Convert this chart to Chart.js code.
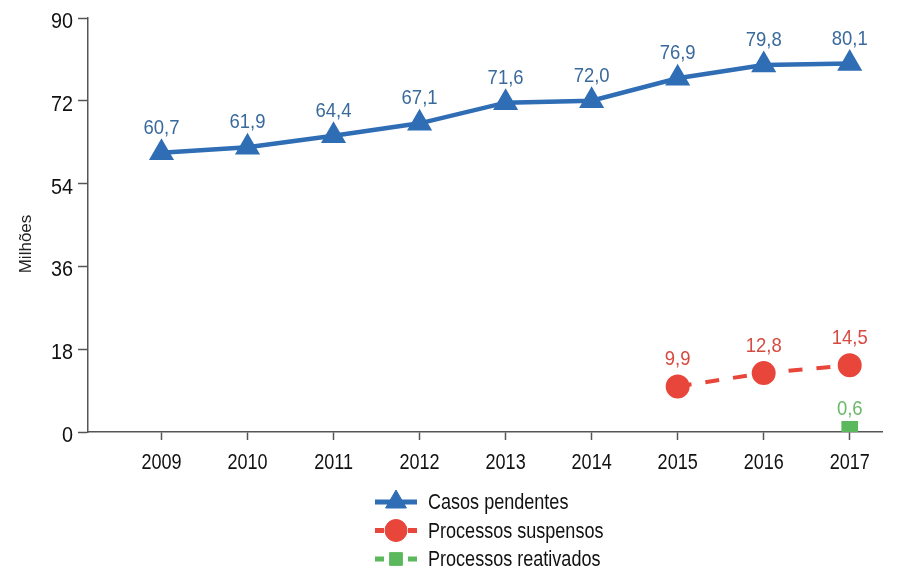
<!DOCTYPE html>
<html>
<head>
<meta charset="utf-8">
<script src="https://cdn.jsdelivr.net/npm/chart.js@4/dist/chart.umd.min.js"></script>
<style>
  html, body { margin: 0; padding: 0; background: #fff; }
  #wrap { width: 897px; height: 572px; position: relative; }
</style>
</head>
<body>
<div id="wrap"><canvas id="c"></canvas></div>
<script>
// Acervo processual (milhões de processos)
const years = [2009, 2010, 2011, 2012, 2013, 2014, 2015, 2016, 2017];
const pendentes = [60.7, 61.9, 64.4, 67.1, 71.6, 72.0, 76.9, 79.8, 80.1];
const suspensos = [null, null, null, null, null, null, 9.9, 12.8, 14.5];
const reativados = [null, null, null, null, null, null, null, null, 0.6];
const seriesNames = ['Casos pendentes', 'Processos suspensos', 'Processos reativados'];
const yTicks = [0, 18, 36, 54, 72, 90];
const yTitle = 'Milhões';

const FAMILY = "'Liberation Sans', Arial, sans-serif";
const AXIS = '#555555';
const CLEAR = 'rgba(0,0,0,0)';

function toPoints(vals) {
  return years.map((y, i) => ({ x: y, y: vals[i] }));
}
function fmt(v) {
  return v.toFixed(1).replace('.', ',');
}

// Text drawn with a horizontal squeeze to get a narrow face
function narrowText(ctx, text, x, y, opts) {
  const size = opts.size, squeeze = opts.squeeze || 0.82;
  ctx.save();
  ctx.font = size + 'px ' + FAMILY;
  ctx.fillStyle = opts.color;
  ctx.textBaseline = 'alphabetic';
  ctx.textAlign = 'left';
  const w = ctx.measureText(text).width * squeeze;
  let left = x;
  if (opts.align === 'center') left = x - w / 2;
  else if (opts.align === 'right') left = x - w;
  ctx.translate(left, y);
  ctx.scale(squeeze, 1);
  ctx.fillText(text, 0, 0);
  ctx.restore();
}

// Axis labels and y title, placed from the scales' own tick positions
const axisText = {
  id: 'axisText',
  afterDraw(chart) {
    const ctx = chart.ctx;
    const xs = chart.scales.x, ys = chart.scales.y;
    xs.ticks.forEach(t => {
      narrowText(ctx, String(t.value), xs.getPixelForValue(t.value), xs.top + 37,
        { size: 22, squeeze: 0.82, color: '#111111', align: 'center' });
    });
    ys.ticks.forEach(t => {
      narrowText(ctx, String(t.value), ys.right - 15, ys.getPixelForValue(t.value) + 10,
        { size: 22, squeeze: 0.9, color: '#111111', align: 'right' });
    });
    ctx.save();
    ctx.font = '17px ' + FAMILY;
    ctx.fillStyle = '#222222';
    ctx.textAlign = 'center';
    ctx.textBaseline = 'middle';
    ctx.translate(26, (ys.top + ys.bottom) / 2 + 19);
    ctx.rotate(-Math.PI / 2);
    ctx.fillText(yTitle, 0, 0);
    ctx.restore();
  }
};

// Value labels above each marker
const valueLabels = {
  id: 'valueLabels',
  afterDatasetsDraw(chart) {
    const ctx = chart.ctx;
    chart.data.datasets.forEach((ds, i) => {
      const meta = chart.getDatasetMeta(i);
      meta.data.forEach((pt, j) => {
        const v = ds.data[j].y;
        if (v === null || v === undefined) return;
        narrowText(ctx, fmt(v), pt.x, pt.y - ds.labelOffset,
          { size: 21, squeeze: 0.88, color: ds.labelColor, align: 'center' });
      });
    });
  }
};

// Stacked legend below the plot
const stackedLegend = {
  id: 'stackedLegend',
  afterDraw(chart) {
    const ctx = chart.ctx;
    const x0 = 375, x1 = 417, tx = 428, top = 502, gap = 28.5;
    chart.data.datasets.forEach((ds, i) => {
      const y = top + i * gap;
      ctx.save();
      ctx.strokeStyle = ds.borderColor;
      ctx.lineWidth = 5;
      ctx.setLineDash(ds.legendDash || []);
      ctx.beginPath();
      ctx.moveTo(x0, y);
      ctx.lineTo(x1, y);
      ctx.stroke();
      ctx.setLineDash([]);
      ctx.fillStyle = ds.pointBackgroundColor;
      ctx.strokeStyle = ds.pointBackgroundColor;
      ctx.lineWidth = 1;
      Chart.helpers.drawPoint(ctx, {
        pointStyle: ds.pointStyle, radius: ds.legendRadius, rotation: 0, borderWidth: 1
      }, (x0 + x1) / 2, y);
      ctx.restore();
      narrowText(ctx, ds.label, tx, y + 7, { size: 22, squeeze: 0.82, color: '#111111', align: 'left' });
    });
  }
};

new Chart(document.getElementById('c'), {
  type: 'line',
  data: {
    datasets: [
      {
        label: seriesNames[0],
        data: toPoints(pendentes),
        borderColor: '#2f6db5',
        backgroundColor: '#2f6db5',
        pointBackgroundColor: '#2f6db5',
        pointBorderColor: '#2f6db5',
        borderWidth: 4.5,
        pointStyle: 'triangle',
        pointRadius: 10,
        legendRadius: 12,
        labelColor: '#3a6a9c',
        labelOffset: 19
      },
      {
        label: seriesNames[1],
        data: toPoints(suspensos),
        borderColor: '#e8463a',
        backgroundColor: '#e8463a',
        pointBackgroundColor: '#e8463a',
        pointBorderColor: '#e8463a',
        borderWidth: 4,
        borderDash: [14, 14],
        legendDash: [9, 24],
        pointStyle: 'circle',
        pointRadius: 10,
        legendRadius: 11,
        labelColor: '#d64a40',
        labelOffset: 21
      },
      {
        label: seriesNames[2],
        data: toPoints(reativados),
        borderColor: '#5cb85c',
        backgroundColor: '#5cb85c',
        pointBackgroundColor: '#5cb85c',
        pointBorderColor: '#5cb85c',
        borderWidth: 4,
        borderDash: [10, 8],
        legendDash: [9, 24],
        pointStyle: 'rect',
        pointRadius: 9,
        legendRadius: 9,
        labelColor: '#6ab86a',
        labelOffset: 14
      }
    ]
  },
  options: {
    responsive: true,
    maintainAspectRatio: false,
    animation: false,
    spanGaps: false,
    layout: { padding: { left: 0, top: 18, right: 9, bottom: 90 } },
    plugins: {
      legend: { display: false },
      tooltip: { enabled: false }
    },
    scales: {
      x: {
        type: 'linear',
        min: 2008.1457,
        max: 2017.381,
        afterBuildTicks(scale) {
          scale.ticks = years.map(v => ({ value: v }));
        },
        afterFit(scale) { scale.height = 50; },
        ticks: {
          callback: v => String(v),
          color: CLEAR,
          font: { family: FAMILY, size: 20 },
          padding: 4,
          maxRotation: 0
        },
        grid: {
          drawOnChartArea: false,
          drawTicks: true,
          tickLength: 8,
          tickWidth: 1.5,
          color: AXIS
        },
        border: { display: true, color: AXIS, width: 1.5 }
      },
      y: {
        min: 0,
        max: 90,
        afterBuildTicks(scale) {
          scale.ticks = yTicks.map(v => ({ value: v }));
        },
        afterFit(scale) { scale.width = 88; },
        ticks: {
          color: CLEAR,
          font: { family: FAMILY, size: 20 },
          padding: 4
        },
        grid: {
          drawOnChartArea: false,
          drawTicks: true,
          tickLength: 10,
          tickWidth: 1.5,
          color: AXIS
        },
        border: { display: true, color: AXIS, width: 1.5 }
      }
    }
  },
  plugins: [axisText, valueLabels, stackedLegend]
});
</script>
</body>
</html>
